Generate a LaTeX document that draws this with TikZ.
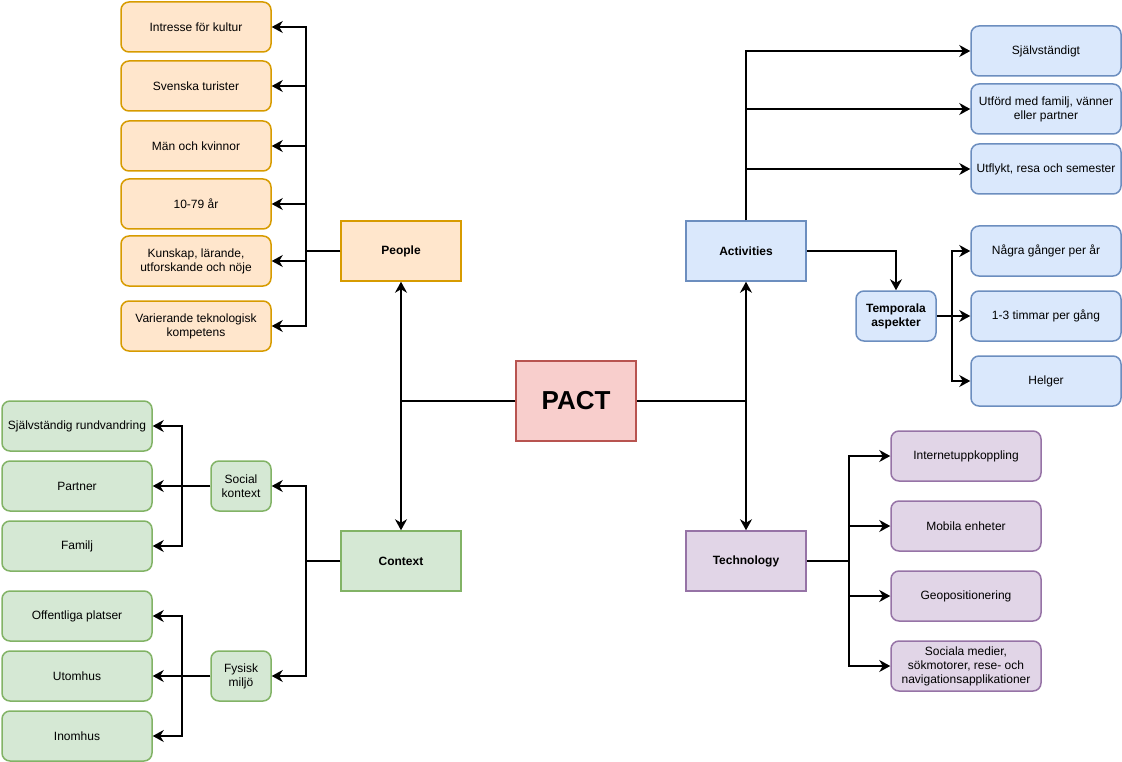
\documentclass[tikz,border=0pt]{standalone}
\usepackage{fontspec}
\setmainfont{Liberation Sans}
\usepackage{xcolor}
\usepackage{tikz}
\usetikzlibrary{arrows.meta}
\usetikzlibrary{positioning}

\definecolor{peoplefill}{HTML}{FFE6CC}
\definecolor{peopledraw}{HTML}{D79B00}
\definecolor{contextfill}{HTML}{D5E8D4}
\definecolor{contextdraw}{HTML}{82B366}
\definecolor{activityfill}{HTML}{DAE8FC}
\definecolor{activitydraw}{HTML}{6C8EBF}
\definecolor{techfill}{HTML}{E1D5E7}
\definecolor{techdraw}{HTML}{9673A6}
\definecolor{pactfill}{HTML}{F8CECC}
\definecolor{pactdraw}{HTML}{B85450}

\tikzset{
    leaf/.style={draw, rounded corners=8pt, line width=1.5pt, minimum width=150pt,
        minimum height=50pt, inner sep=1pt, align=center, font=\fontsize{12}{14}\selectfont},
    midbox/.style={leaf, minimum width=60pt},
    mainbox/.style={draw, line width=1.5pt, minimum width=120pt, minimum height=60pt,
        align=center, font=\fontsize{12}{14}\selectfont\bfseries},
    conn/.style={line width=1.3pt},
    arr/.style={conn, -{Stealth[length=11pt, width=12pt, inset=3.5pt]}},
    arrboth/.style={conn, {Stealth[length=11pt, width=12pt, inset=3.5pt]}-{Stealth[length=11pt, width=12pt, inset=3.5pt]}},
}

\begin{document}
\begin{tikzpicture}[x=1pt, y=-1pt]
        \useasboundingbox (0,0) rectangle (1122,762);

        % Centro
        \node[mainbox, fill=pactfill, draw=pactdraw, minimum height=80pt,
            font=\fontsize{26}{30}\selectfont\bfseries] (pact) at (576, 401) {PACT};
        \node[mainbox, fill=peoplefill, draw=peopledraw] (people) at (401, 251) {People};
        \node[mainbox, fill=contextfill, draw=contextdraw] (context) at (401, 561) {Context};
        \node[mainbox, fill=activityfill, draw=activitydraw] (activities) at (746, 251) {Activities};
        \node[mainbox, fill=techfill, draw=techdraw] (technology) at (746, 561) {Technology};

        % People
        \node[leaf, fill=peoplefill, draw=peopledraw] (p1) at (196, 27) {Intresse för kultur};
        \node[leaf, fill=peoplefill, draw=peopledraw] (p2) at (196, 86) {Svenska turister};
        \node[leaf, fill=peoplefill, draw=peopledraw] (p3) at (196, 146) {Män och kvinnor};
        \node[leaf, fill=peoplefill, draw=peopledraw] (p4) at (196, 204) {10-79 år};
        \node[leaf, fill=peoplefill, draw=peopledraw] (p5) at (196, 261) {Kunskap, lärande,\\ utforskande och nöje};
        \node[leaf, fill=peoplefill, draw=peopledraw] (p6) at (196, 326) {Varierande teknologisk\\ kompetens};

        % Context
        \node[midbox, fill=contextfill, draw=contextdraw] (social) at (241, 486) {Social\\ kontext};
        \node[midbox, fill=contextfill, draw=contextdraw] (fysisk) at (241, 676) {Fysisk\\ miljö};
        \node[leaf, fill=contextfill, draw=contextdraw] (c1) at (77, 426) {Självständig rundvandring};
        \node[leaf, fill=contextfill, draw=contextdraw] (c2) at (77, 486) {Partner};
        \node[leaf, fill=contextfill, draw=contextdraw] (c3) at (77, 546) {Familj};
        \node[leaf, fill=contextfill, draw=contextdraw] (c4) at (77, 616) {Offentliga platser};
        \node[leaf, fill=contextfill, draw=contextdraw] (c5) at (77, 676) {Utomhus};
        \node[leaf, fill=contextfill, draw=contextdraw] (c6) at (77, 736) {Inomhus};

        % Activities
        \node[leaf, fill=activityfill, draw=activitydraw] (a1) at (1046, 51) {Självständigt};
        \node[leaf, fill=activityfill, draw=activitydraw] (a2) at (1046, 109) {Utförd med familj, vänner\\ eller partner};
        \node[leaf, fill=activityfill, draw=activitydraw] (a3) at (1046, 169) {Utflykt, resa och semester};
        \node[midbox, fill=activityfill, draw=activitydraw, minimum width=80pt,
            font=\fontsize{12}{14}\selectfont\bfseries] (temporala) at (896, 316) {Temporala\\ aspekter};
        \node[leaf, fill=activityfill, draw=activitydraw] (t1) at (1046, 251) {Några gånger per år};
        \node[leaf, fill=activityfill, draw=activitydraw] (t2) at (1046, 316) {1-3 timmar per gång};
        \node[leaf, fill=activityfill, draw=activitydraw] (t3) at (1046, 381) {Helger};

        % Technology
        \node[leaf, fill=techfill, draw=techdraw] (k1) at (966, 456) {Internetuppkoppling};
        \node[leaf, fill=techfill, draw=techdraw] (k2) at (966, 526) {Mobila enheter};
        \node[leaf, fill=techfill, draw=techdraw] (k3) at (966, 596) {Geopositionering};
        \node[leaf, fill=techfill, draw=techdraw] (k4) at (966, 666) {Sociala medier,\\ sökmotorer, rese- och\\ navigationsapplikationer};

        % Punti di diramazione
        \coordinate (pj) at (306, 251);
        \coordinate (cj) at (306, 561);
        \coordinate (sj) at (182, 486);
        \coordinate (fj) at (182, 676);
        \coordinate (tj) at (952, 316);
        \coordinate (kj) at (849, 561);

        % Collegamenti centrali
        \draw[conn] (pact.west) -- (pact.west -| people.south);
        \draw[conn] (pact.east) -- (pact.east -| activities.south);
        \draw[arrboth] (people.south) -- (context.north);
        \draw[arrboth] (activities.south) -- (technology.north);

        % Frecce People
        \draw[arr] (people.west) -- (pj) |- (p1.east);
        \draw[arr] (pj) |- (p2.east);
        \draw[arr] (pj) |- (p3.east);
        \draw[arr] (pj) |- (p4.east);
        \draw[arr] (pj) |- (p5.east);
        \draw[arr] (pj) |- (p6.east);

        % Frecce Context
        \draw[arr] (context.west) -- (cj) |- (social.east);
        \draw[arr] (cj) |- (fysisk.east);
        \draw[arr] (social.west) -- (c2.east);
        \draw[arr] (sj) |- (c1.east);
        \draw[arr] (sj) |- (c3.east);
        \draw[arr] (fysisk.west) -- (c5.east);
        \draw[arr] (fj) |- (c4.east);
        \draw[arr] (fj) |- (c6.east);

        % Frecce Activities
        \draw[arr] (activities.north) |- (a1.west);
        \draw[arr] (activities.north) |- (a2.west);
        \draw[arr] (activities.north) |- (a3.west);
        \draw[arr] (activities.east) -| (temporala.north);
        \draw[arr] (temporala.east) -- (t2.west);
        \draw[arr] (tj) |- (t1.west);
        \draw[arr] (tj) |- (t3.west);

        % Frecce Technology
        \draw[arr] (technology.east) -- (kj) |- (k1.west);
        \draw[arr] (kj) |- (k2.west);
        \draw[arr] (kj) |- (k3.west);
        \draw[arr] (kj) |- (k4.west);
    \end{tikzpicture}
\end{document}
